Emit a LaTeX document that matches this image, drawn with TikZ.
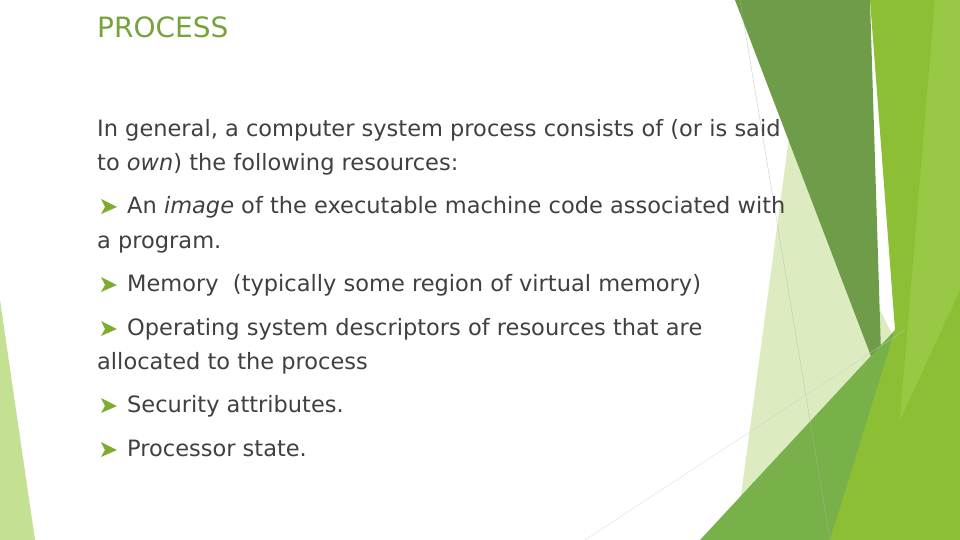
\documentclass[tikz,border=0pt]{standalone}
\usepackage{fontspec}
\setmainfont{DejaVu Sans}
\usepackage{tikz}
\definecolor{darkleaf}{HTML}{6E9C48}
\definecolor{paleleaf}{HTML}{DCEBC0}
\definecolor{midleaf}{HTML}{78B04A}
\definecolor{brightleaf}{HTML}{8CBF34}
\definecolor{lightleaf}{HTML}{9CCB4A}
\definecolor{titlegreen}{HTML}{76A33A}
\definecolor{bodygray}{HTML}{404040}
\tikzset{
  line/.style={anchor=base west, inner sep=0pt, font=\fontsize{22.5}{26}\selectfont, text=bodygray},
  bulletmark/.style={fill=brightleaf!90!black}
}
\begin{document}
\begin{tikzpicture}[x=1pt,y=-1pt]
\useasboundingbox (0,0) rectangle (960,540);
% background shapes
\fill[paleleaf] (790,130) -- (900,350) -- (850,540) -- (735,540) -- cycle;
\fill[darkleaf] (735,0) -- (870,0) -- (882,385) -- cycle;
\fill[midleaf] (700,540) -- (895,330) -- (960,540) -- cycle;
\fill[brightleaf] (870,0) -- (960,0) -- (960,540) -- (830,540) -- (895,330) -- cycle;
\fill[lightleaf, opacity=0.8] (935,0) -- (960,0) -- (960,290) -- (900,420) -- cycle;
\fill[lightleaf, opacity=0.6] (0,300) -- (35,540) -- (0,540) -- cycle;
\draw[gray!60, very thin] (740,0) -- (830,540);
\draw[gray!40, very thin] (585,540) -- (905,330);
% title
\node[anchor=base west, inner sep=0pt, font=\fontsize{28}{32}\selectfont, text=titlegreen] (title) at (97,38) {PROCESS};
% intro
\node[line] (intro1) at (97,137) {In general, a computer system process consists of (or is said};
\node[line] (intro2) at (97,171) {to \textit{own}) the following resources:};
% items
\foreach \y/\txt [count=\i] in {213/{An \textit{image} of the executable machine code associated with},
  291/{Memory\ \ (typically some region of virtual memory)},
  335/{Operating system descriptors of resources that are},
  412/{Security attributes.},
  456/{Processor state.}}{
  \fill[bulletmark] (101,\y-14) -- (117,\y-6) -- (101,\y+1) -- (105,\y-6) -- cycle;
  \node[line] (item\i) at (127,\y) {\txt};
}
\node[line] (item1b) at (97,248) {a program.};
\node[line] (item3b) at (97,369) {allocated to the process};
\end{tikzpicture}
\end{document}
